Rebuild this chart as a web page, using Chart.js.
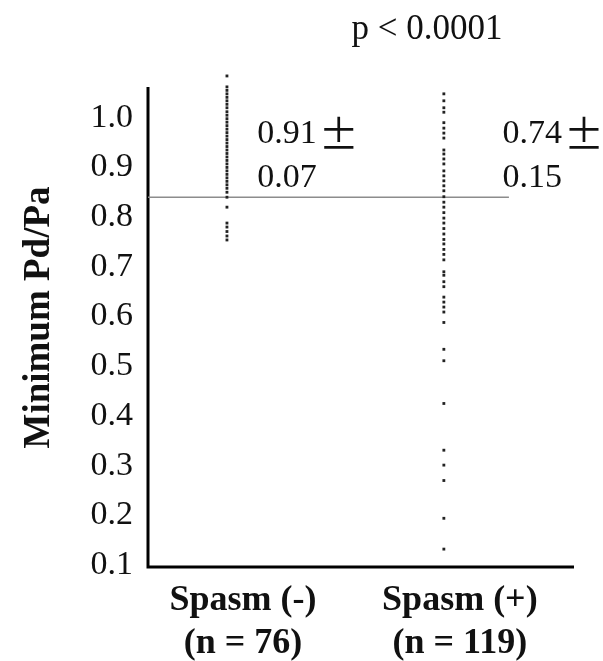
<!DOCTYPE html>
<html>
<head>
<meta charset="utf-8">
<script src="https://cdn.jsdelivr.net/npm/chart.js@4.4.1/dist/chart.umd.min.js"></script>
<style>
  html, body { margin: 0; padding: 0; background: #fff; }
</style>
</head>
<body>
<canvas id="chart" width="603" height="661"></canvas>
<script>
// groups on the x axis
const groups = ['Spasm (-)', 'Spasm (+)'];
const groupN = ['(n = 76)', '(n = 119)'];
const groupX = [1, 2];

// minimum Pd/Pa per patient (visible dots)
const spasmNeg = [1.084, 1.062, 1.055, 1.048, 1.041, 1.034, 1.027, 1.020, 1.012, 1.005,
  0.998, 0.991, 0.984, 0.977, 0.970, 0.963, 0.956, 0.949, 0.942, 0.935,
  0.928, 0.921, 0.914, 0.907, 0.900, 0.893, 0.886, 0.879, 0.872, 0.865,
  0.858, 0.850, 0.840, 0.820, 0.788, 0.780, 0.771, 0.762, 0.754];
const spasmPos = [1.048, 1.034, 1.020, 1.011, 0.990, 0.979, 0.969, 0.959, 0.935, 0.927,
  0.917, 0.907, 0.893, 0.883, 0.873, 0.863, 0.853, 0.841, 0.830, 0.820,
  0.809, 0.798, 0.788, 0.777, 0.766, 0.755, 0.746, 0.735, 0.725, 0.714,
  0.690, 0.683, 0.670, 0.660, 0.639, 0.629, 0.619, 0.609, 0.588, 0.534,
  0.511, 0.425, 0.331, 0.301, 0.270, 0.194, 0.132];

const yTicks = [0.1, 0.2, 0.3, 0.4, 0.5, 0.6, 0.7, 0.8, 0.9, 1.0];
const cutoff = 0.84;
const meanText = [['0.91', '0.07'], ['0.74', '0.15']];
const meanTextX = [1.14, 2.27];
const meanTextY = [0.967, 0.878];
const pText = 'p < 0.0001';

const serif = '"Liberation Serif", "Times New Roman", serif';

const extras = {
  id: 'extras',
  beforeDatasetsDraw(chart) {
    const { ctx, scales: { x, y } } = chart;
    ctx.save();
    ctx.strokeStyle = '#000';
    ctx.lineWidth = 3;
    ctx.beginPath();
    ctx.moveTo(x.left, y.getPixelForValue(1.062));
    ctx.lineTo(x.left, y.bottom);
    ctx.lineTo(x.right, y.bottom);
    ctx.stroke();
    ctx.restore();
  },
  afterDraw(chart) {
    const { ctx, scales: { x, y } } = chart;
    ctx.save();
    ctx.fillStyle = '#111';
    ctx.textBaseline = 'middle';
    ctx.textAlign = 'left';
    meanText.forEach((lines, i) => {
      const px = x.getPixelForValue(meanTextX[i]);
      lines.forEach((t, j) => {
        const py = y.getPixelForValue(meanTextY[j]);
        ctx.font = '34px ' + serif;
        ctx.fillText(t, px, py);
        if (j === 0) {
          // wide plus-minus sign as in the original figure
          const w = ctx.measureText(t).width;
          ctx.font = '40px "Noto Sans CJK JP", ' + serif;
          ctx.fillText('\u00b1', px + w + 2, py);
        }
      });
    });
    ctx.textAlign = 'center';
    ctx.font = '35px ' + serif;
    ctx.fillText(pText, 427, 30);
    ctx.restore();
  }
};

new Chart(document.getElementById('chart'), {
  type: 'scatter',
  data: {
    datasets: [
      {
        label: groups[0],
        data: spasmNeg.map(v => ({ x: groupX[0], y: v })),
        pointStyle: 'rect',
        pointRadius: 2,
        borderWidth: 0,
        backgroundColor: '#222'
      },
      {
        label: groups[1],
        data: spasmPos.map(v => ({ x: groupX[1], y: v })),
        pointStyle: 'rect',
        pointRadius: 2,
        borderWidth: 0,
        backgroundColor: '#222'
      },
      {
        type: 'line',
        label: 'cutoff',
        data: [{ x: 0.636, y: cutoff }, { x: 2.3, y: cutoff }],
        borderColor: '#8c8c8c',
        borderWidth: 1.5,
        pointRadius: 0,
        order: 5
      }
    ]
  },
  options: {
    responsive: false,
    animation: false,
    layout: { padding: { left: 0, right: 29, top: 68, bottom: 0 } },
    plugins: { legend: { display: false }, tooltip: { enabled: false } },
    scales: {
      x: {
        type: 'linear',
        min: 0.636,
        max: 2.6,
        afterBuildTicks: s => { s.ticks = groupX.map(v => ({ value: v })); },
        afterFit: s => { s.height = 94; },
        grid: { display: false, drawTicks: false },
        border: { display: false },
        ticks: {
          callback: (v, i) => [groups[i], groupN[i]],
          color: '#111',
          font: { family: serif, size: 36, weight: 'bold', lineHeight: 1.2 },
          padding: 12,
          labelOffset: 16,
          maxRotation: 0,
          autoSkip: false
        }
      },
      y: {
        min: 0.096,
        max: 1.10,
        afterBuildTicks: s => { s.ticks = yTicks.map(v => ({ value: v })); },
        afterFit: s => { s.width = 148; },
        grid: { display: false, drawTicks: false },
        border: { display: false },
        ticks: {
          callback: v => v.toFixed(1),
          color: '#111',
          font: { family: serif, size: 34 },
          padding: 15
        },
        title: {
          display: true,
          text: 'Minimum Pd/Pa',
          color: '#111',
          font: { family: serif, size: 37, weight: 'bold' },
          padding: { top: 17, bottom: 0 }
        }
      }
    }
  },
  plugins: [extras]
});
</script>
</body>
</html>
